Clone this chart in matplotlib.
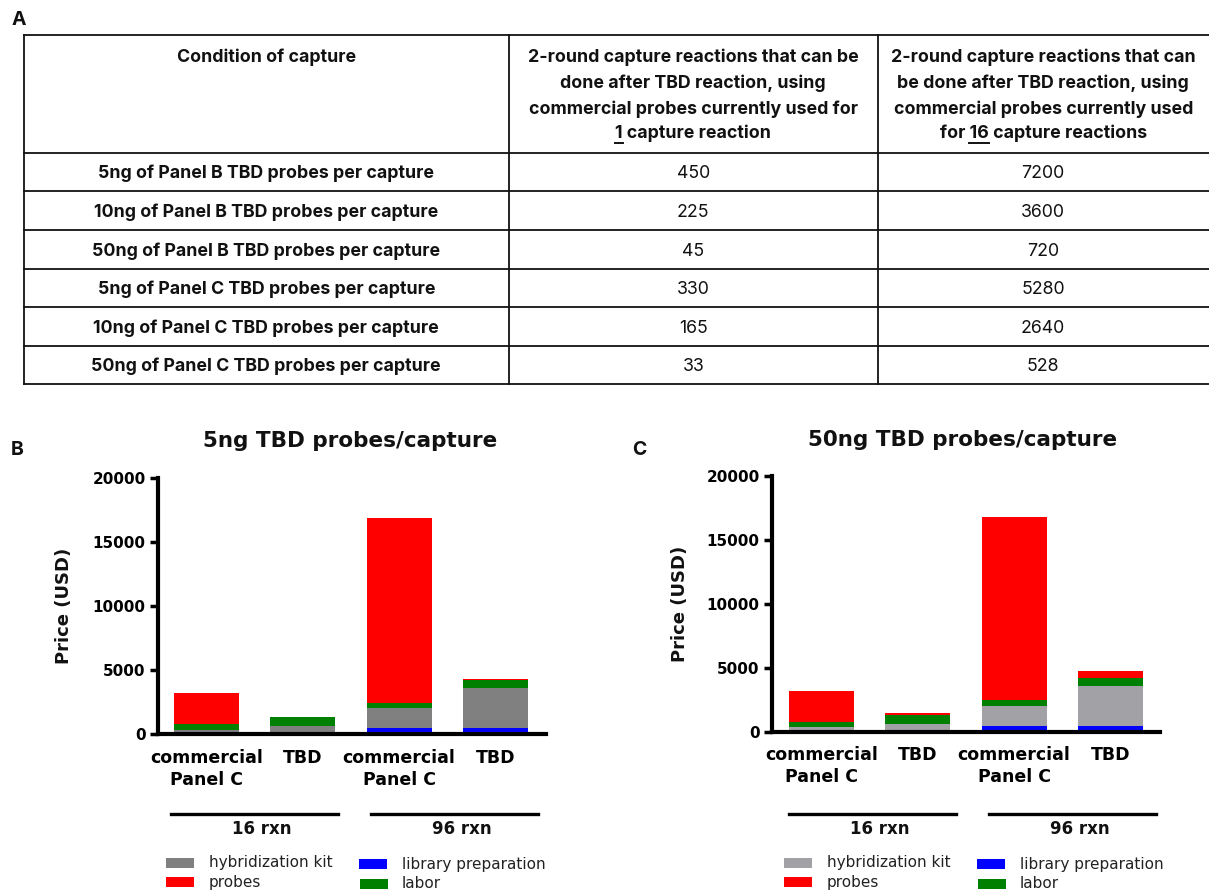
import matplotlib
matplotlib.use("Agg")
import matplotlib.pyplot as plt
from matplotlib.patches import Rectangle
from matplotlib.lines import Line2D
from matplotlib import font_manager as fm
import numpy as np

# ---------------- data ----------------
conditions = [
    "5ng of Panel B TBD probes per capture",
    "10ng of Panel B TBD probes per capture",
    "50ng of Panel B TBD probes per capture",
    "5ng of Panel C TBD probes per capture",
    "10ng of Panel C TBD probes per capture",
    "50ng of Panel C TBD probes per capture",
]
reactions_1 = [450, 225, 45, 330, 165, 33]
reactions_16 = [7200, 3600, 720, 5280, 2640, 528]

categories = ["commercial\nPanel C", "TBD", "commercial\nPanel C", "TBD"]
groups = ["16 rxn", "96 rxn"]
components = ["hybridization kit", "probes", "library preparation", "labor"]

# panel B: 5ng TBD probes/capture (USD)
lib_B = [40, 40, 470, 470]
hyb_B = [273, 586, 1566, 3132]
labor_B = [497, 705, 365, 652]
probes_B = [2405, 16, 14512, 53]

# panel C: 50ng TBD probes/capture (USD)
lib_C = [40, 40, 442, 442]
hyb_C = [324, 557, 1558, 3116]
labor_C = [389, 701, 493, 649]
probes_C = [2415, 156, 14310, 520]

# ---------------- layout helpers ----------------
W, H = 1209, 891
DPI = 100
fig = plt.figure(figsize=(W / DPI, H / DPI), dpi=DPI)
fig.patch.set_facecolor("white")


def fx(x):
    return x / W


def fy(y):
    return 1 - y / H


def has_bold(name):
    for f in fm.fontManager.ttflist:
        w = f.weight if isinstance(f.weight, int) else 400
        if f.name == name and w >= 600 and f.stretch == "normal":
            return True
    return False


if has_bold("Inter"):
    TFONT, TFS = "Inter", 12.8
else:
    TFONT, TFS = "Lato", 13.5
CFONT = "DejaVu Sans"
TCOL = "#111111"

# ---------------- panel letters ----------------
for letter, x, y in [("A", 12, 20), ("B", 11, 450), ("C", 632, 450)]:
    fig.text(fx(x), fy(y), letter, family=TFONT, fontweight="bold", fontsize=14,
             ha="left", va="center", color=TCOL)

# ---------------- table ----------------
tbl_left, tbl_right = 23.5, 1209
col_x = [23.5, 509, 877.5]
row_y = [35, 152.5, 191, 230, 268.5, 307, 346, 384]
for y in row_y:
    fig.add_artist(Line2D([fx(tbl_left), fx(tbl_right)], [fy(y), fy(y)],
                          color=TCOL, lw=1.3))
for x in col_x:
    fig.add_artist(Line2D([fx(x), fx(x)], [fy(row_y[0]), fy(row_y[-1])],
                          color=TCOL, lw=1.3))

c1 = (col_x[0] + col_x[1]) / 2
c2 = (col_x[1] + col_x[2]) / 2
c3 = (col_x[2] + tbl_right) / 2

hdr_base = [62.5, 88.5, 113.5, 138.5]
fig.text(fx(c1), fy(hdr_base[0]), "Condition of capture", family=TFONT,
         fontweight="bold", fontsize=TFS, ha="center", va="baseline", color=TCOL)
hdr2 = ["2-round capture reactions that can be", "done after TBD reaction, using",
        "commercial probes currently used for", "1 capture reaction"]
hdr3 = ["2-round capture reactions that can", "be done after TBD reaction, using",
        "commercial probes currently used", "for 16 capture reactions"]
hdr_texts = []
for lines, cx in [(hdr2, c2), (hdr3, c3)]:
    row = []
    for ln, yb in zip(lines, hdr_base):
        t = fig.text(fx(cx), fy(yb), ln, family=TFONT, fontweight="bold",
                     fontsize=TFS, ha="center", va="baseline", color=TCOL)
        row.append(t)
    hdr_texts.append(row)

for i, cond in enumerate(conditions):
    yb = (row_y[i + 1] + row_y[i + 2]) / 2 + 6.5
    fig.text(fx(c1), fy(yb), cond, family=TFONT, fontweight="bold", fontsize=TFS,
             ha="center", va="baseline", color=TCOL)
    fig.text(fx(c2), fy(yb), str(reactions_1[i]), family=TFONT, fontsize=TFS,
             ha="center", va="baseline", color=TCOL)
    fig.text(fx(c3), fy(yb), str(reactions_16[i]), family=TFONT, fontsize=TFS,
             ha="center", va="baseline", color=TCOL)

# underlines for "1" and "16"
fig.canvas.draw()
renderer = fig.canvas.get_renderer()


def text_width(s):
    t = fig.text(0, 0, s, family=TFONT, fontweight="bold", fontsize=TFS)
    w = t.get_window_extent(renderer).width
    t.remove()
    return w


for t, prefix, word, yb in [(hdr_texts[0][3], "1", "1", hdr_base[3]),
                            (hdr_texts[1][3], "for 16", "16", hdr_base[3])]:
    bb = t.get_window_extent(renderer)
    x_end = bb.x0 + text_width(prefix)
    x_start = x_end - text_width(word)
    yu = fy(yb + 4)
    fig.add_artist(Line2D([x_start / W, x_end / W], [yu, yu], color=TCOL, lw=1.4))

# ---------------- bar charts ----------------
colors_B = {"hyb": "#808080", "probes": "#ff0000", "lib": "#0000ff", "labor": "#008000"}
colors_C = {"hyb": "#a2a2a6", "probes": "#ff0000", "lib": "#0000ff", "labor": "#008000"}


def chart(left_px, right_px, y0_px, ytop_px, xlim, lib, hyb, labor, probes, cols,
          title, title_xy, ylabel_xy, dx):
    ax = fig.add_axes([fx(left_px), fy(y0_px), (right_px - left_px) / W,
                       (y0_px - ytop_px) / H])
    x = np.arange(len(categories))
    width = 0.675
    bottom = np.zeros(len(categories))
    for vals, key in [(lib, "lib"), (hyb, "hyb"), (labor, "labor"), (probes, "probes")]:
        ax.bar(x, vals, width=width, bottom=bottom, color=cols[key], linewidth=0)
        bottom = bottom + np.array(vals)
    ax.set_xlim(*xlim)
    ax.set_ylim(0, 20000)
    for s in ["top", "right"]:
        ax.spines[s].set_visible(False)
    for s in ["left", "bottom"]:
        ax.spines[s].set_linewidth(3)
        ax.spines[s].set_color("black")
    ax.set_yticks([0, 5000, 10000, 15000, 20000])
    ax.set_yticklabels(["0", "5000", "10000", "15000", "20000"])
    ax.tick_params(axis="y", length=6, width=2.5, pad=3, labelsize=11)
    ax.set_xticks(x)
    ax.set_xticklabels(categories, linespacing=1.3)
    ax.tick_params(axis="x", length=0, pad=10.5, labelsize=12.5)
    for lab in ax.get_yticklabels() + ax.get_xticklabels():
        lab.set_family(CFONT)
        lab.set_fontweight("bold")
    ax.set_facecolor("none")
    fig.text(fx(title_xy[0]), fy(title_xy[1]), title, family=CFONT, fontweight="bold",
             fontsize=15.5, ha="center", va="center", color=TCOL)
    fig.text(fx(ylabel_xy[0]), fy(ylabel_xy[1]), "Price (USD)", family=CFONT,
             fontweight="bold", fontsize=13, rotation=90, ha="center", va="center",
             color=TCOL)
    # group lines / labels
    for (xa, xb), xl, g in [((171, 338), 262, groups[0]), ((371, 538), 462, groups[1])]:
        fig.add_artist(Line2D([fx(xa + dx), fx(xb + dx)], [fy(814), fy(814)],
                              color="black", lw=2.4))
        fig.text(fx(xl + dx), fy(829), g, family=CFONT, fontweight="bold", fontsize=12,
                 ha="center", va="center", color=TCOL)
    # legend
    leg = [("hyb", components[0], 166, 863, 209), ("probes", components[1], 166, 882, 209),
           ("lib", components[2], 359, 864, 402), ("labor", components[3], 360, 884, 402)]
    for key, name, sx, sy, tx in leg:
        fig.add_artist(Rectangle((fx(sx + dx), fy(sy + 5)), 28 / W, 10 / H,
                                 transform=fig.transFigure, color=cols[key], lw=0))
        fig.text(fx(tx + dx), fy(sy), name, family=CFONT, fontsize=11,
                 ha="left", va="center", color="#222222")
    return ax


chart(158, 546, 734, 478, (-0.503, 3.524), lib_B, hyb_B, labor_B, probes_B, colors_B,
      "5ng TBD probes/capture", (350, 441), (64, 606), 0)
chart(772, 1160, 731.7, 476, (-0.514, 3.514), lib_C, hyb_C, labor_C, probes_C, colors_C,
      "50ng TBD probes/capture", (963, 440), (680, 604), 618)

fig.savefig("out.png", dpi=DPI, facecolor="white")
